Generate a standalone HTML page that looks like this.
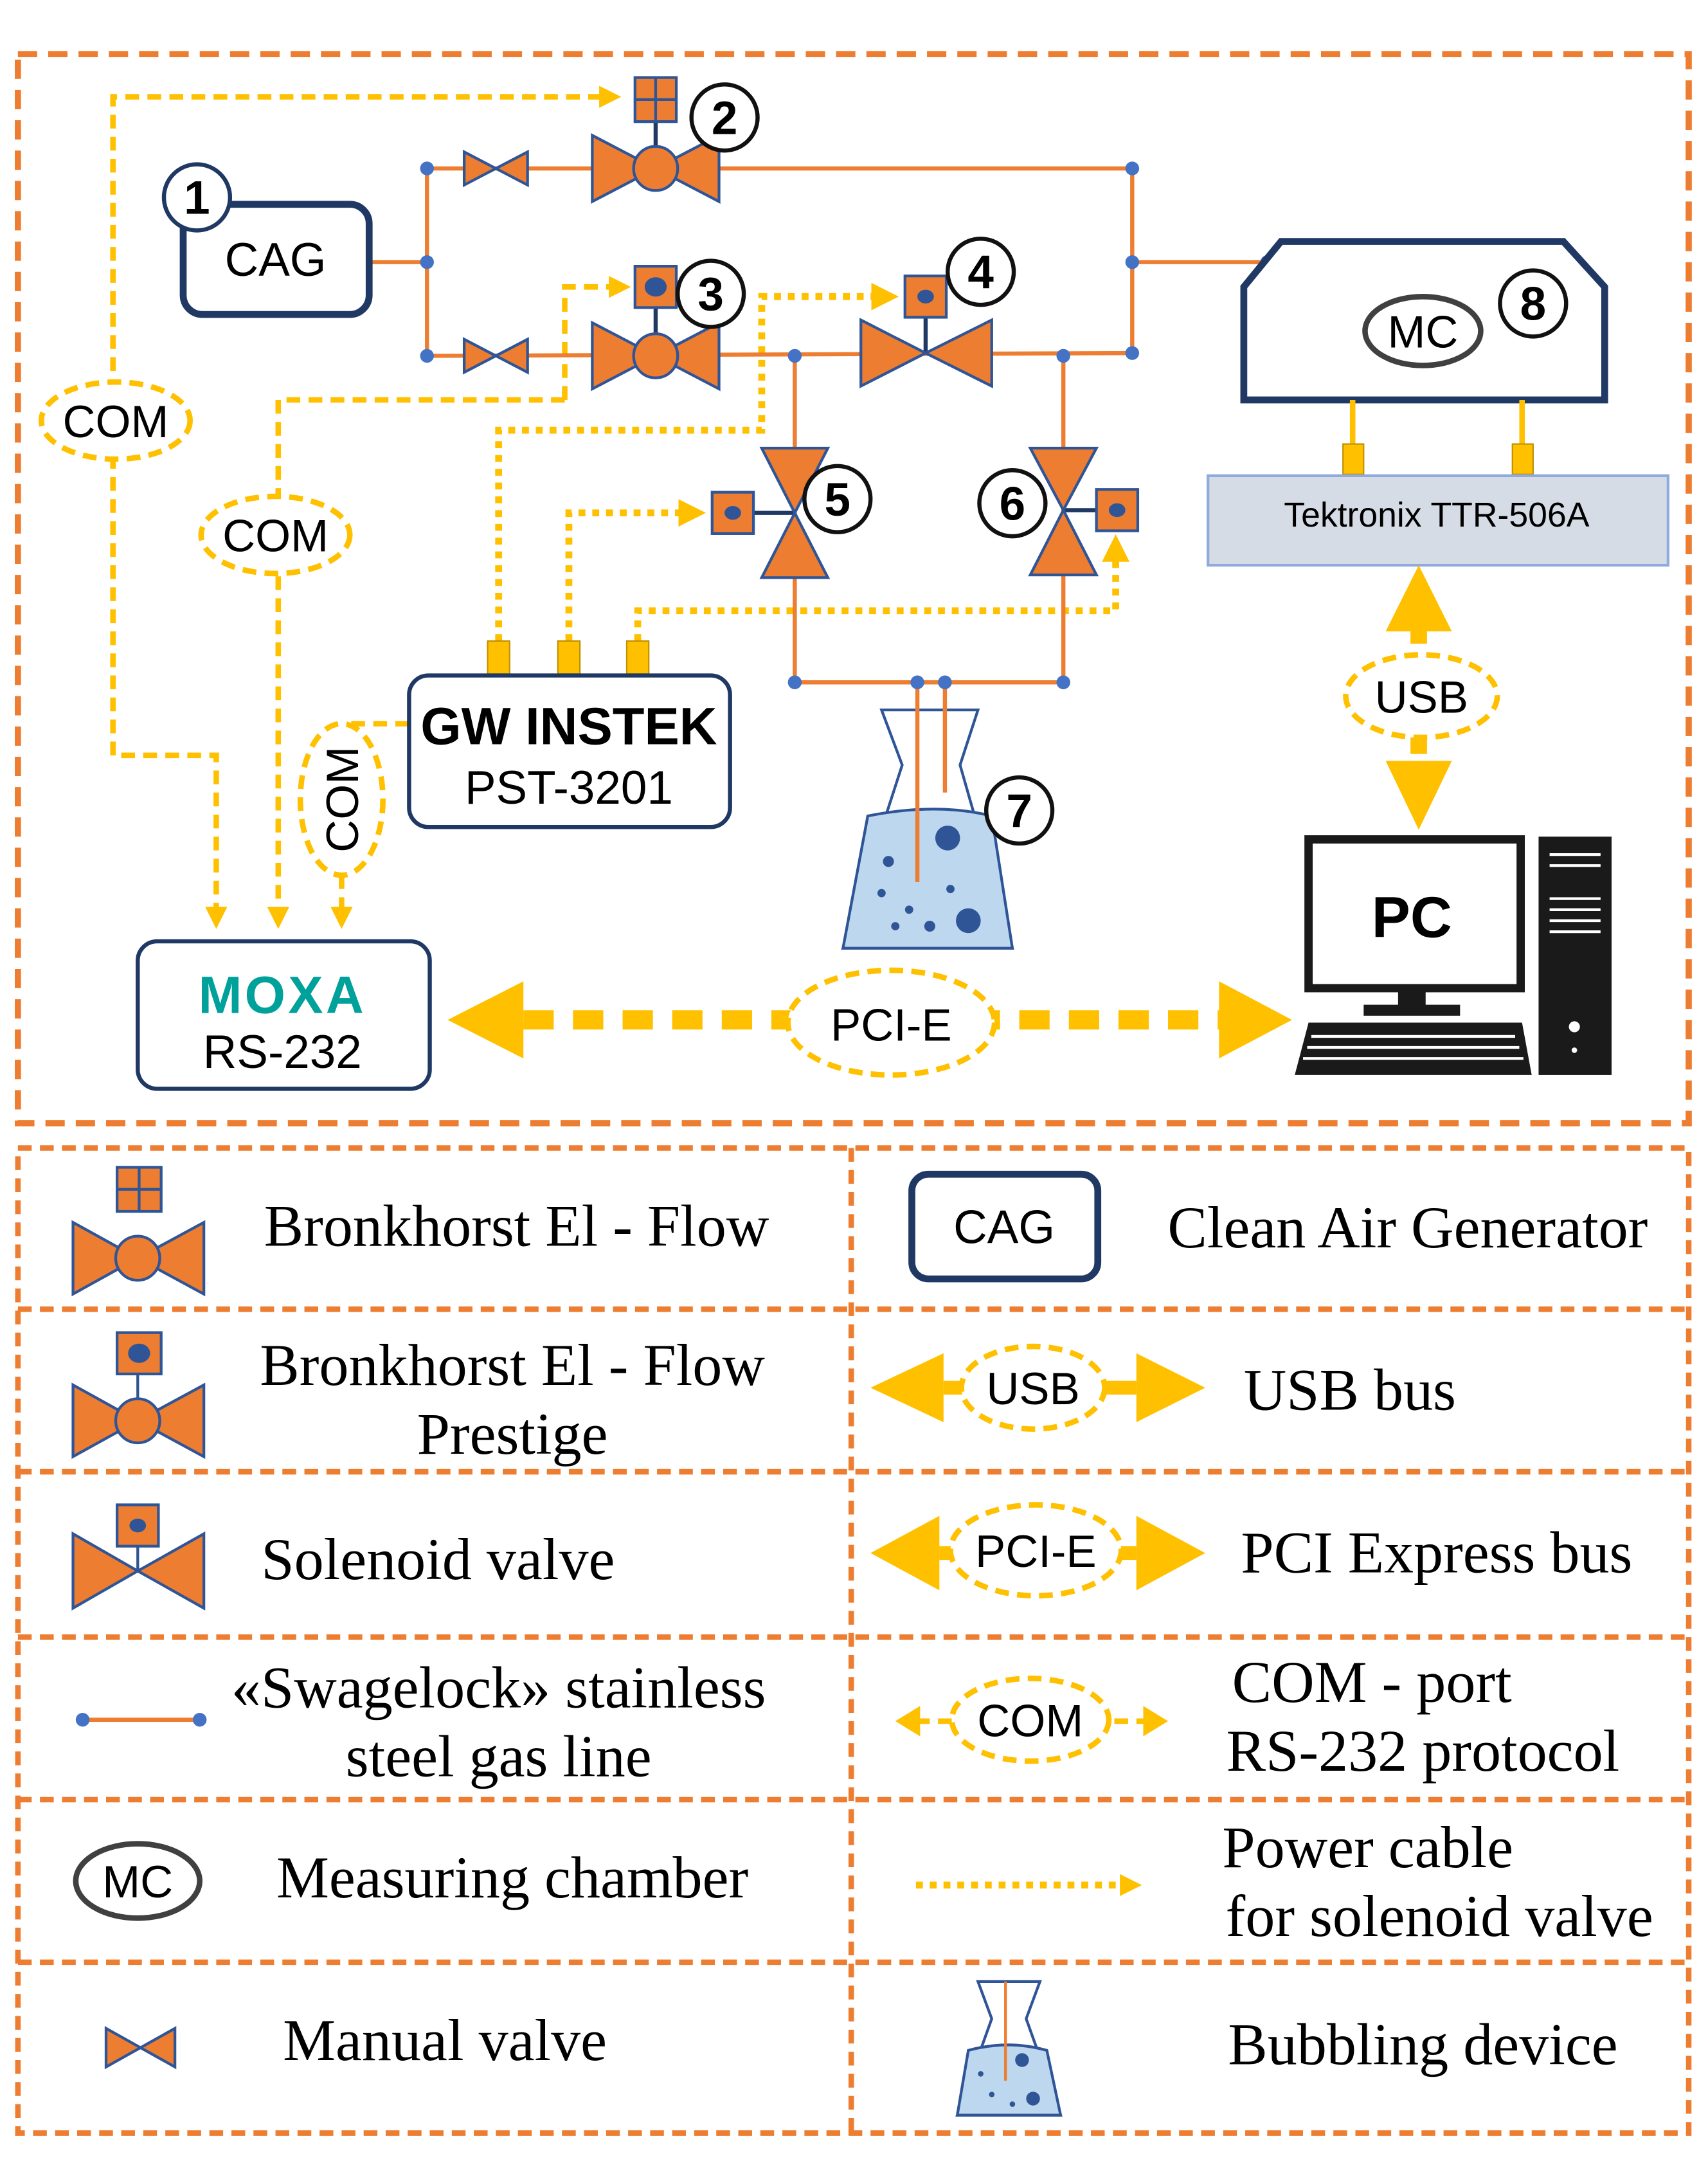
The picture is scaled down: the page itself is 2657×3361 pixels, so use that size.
<!DOCTYPE html>
<html><head><meta charset="utf-8"><style>
html,body{margin:0;padding:0;background:#fff;}
svg{display:block;}
</style></head><body>
<svg width="2657" height="3361" viewBox="0 0 1240 1568" xmlns="http://www.w3.org/2000/svg" font-family="Liberation Sans, sans-serif">
<defs>
<marker id="ay" markerWidth="4" markerHeight="4" refX="2.5" refY="2" orient="auto" markerUnits="strokeWidth"><path d="M0,0 L4,2 L0,4 z" fill="#ffc000"/></marker>
</defs>
<rect width="1240" height="1568" fill="#fff"/>
<rect x="13" y="39" width="1213" height="776" fill="none" stroke="#ed7d31" stroke-width="4.5" stroke-dasharray="14 8"/>
<g fill="none" stroke="#ed7d31" stroke-width="4" stroke-dasharray="10 6">
<rect x="13" y="833" width="1213" height="715"/>
<line x1="618" y1="833" x2="618" y2="1548"/>
<line x1="13" y1="950" x2="1226" y2="950"/>
<line x1="13" y1="1068" x2="1226" y2="1068"/>
<line x1="13" y1="1188" x2="1226" y2="1188"/>
<line x1="13" y1="1306" x2="1226" y2="1306"/>
<line x1="13" y1="1424" x2="1226" y2="1424"/>
</g>

<g fill="none" stroke="#ffc000" stroke-width="4" stroke-dasharray="10 6">
<polyline points="82,285 82,70 445,70" marker-end="url(#ay)"/>
<polyline points="82,330 82,548 157,548 157,668" marker-end="url(#ay)"/>
<polyline points="410,290 410,208 452,208" marker-end="url(#ay)"/>
<polyline points="410,290 202,290 202,360"/>
<polyline points="202,418 202,668" marker-end="url(#ay)"/>
<polyline points="297,525 250,525 250,540"/>
<polyline points="248,635 248,668" marker-end="url(#ay)"/>
</g>
<g fill="#fff" stroke="#ffc000" stroke-width="4" stroke-dasharray="10 6">
<ellipse cx="84" cy="305" rx="54" ry="28"/>
<ellipse cx="200" cy="388" rx="54" ry="28"/>
<ellipse cx="248" cy="580" rx="30" ry="55"/>
</g>
<g font-size="33" fill="#000" text-anchor="middle">
<text x="84" y="317">COM</text>
<text x="200" y="400">COM</text>
<text x="248" y="592" transform="rotate(-90 248 580)">COM</text>
</g>

<g fill="none" stroke="#ffc000" stroke-width="5" stroke-dasharray="5 5">
<polyline points="362,465 362,312 553,312 553,215 645,215" marker-end="url(#ay)"/>
<polyline points="413,465 413,372 505,372" marker-end="url(#ay)"/>
<polyline points="463,465 463,443 810,443 810,395" marker-end="url(#ay)"/>
</g>

<g fill="none" stroke="#ed7d31" stroke-width="3">
<polyline points="268,190 310,190"/>
<polyline points="310,122 310,258"/>
<polyline points="310,122 822,122 822,256 310,258"/>
<polyline points="822,190 920,190"/>
<polyline points="577,258 577,495 772,495 772,258"/>
</g>
<g stroke="#1f3864" stroke-width="3">
<line x1="476" y1="88" x2="476" y2="122"/>
<line x1="476" y1="222" x2="476" y2="258"/>
<line x1="672" y1="228" x2="672" y2="256"/>
<line x1="545" y1="372" x2="577" y2="372"/>
<line x1="772" y1="370" x2="800" y2="370"/>
</g>
<g fill="#ed7d31" stroke="#2f5597" stroke-width="2">
<polygon points="337,110 360,122 337,134"/><polygon points="383,110 360,122 383,134"/>
<polygon points="337,246 360,258 337,270"/><polygon points="383,246 360,258 383,270"/>
<polygon points="430,98 476,122 430,146"/><polygon points="522,98 476,122 522,146"/>
<circle cx="476" cy="122" r="16"/>
<rect x="461" y="56" width="30" height="32"/>
<polygon points="430,234 476,258 430,282"/><polygon points="522,234 476,258 522,282"/>
<circle cx="476" cy="258" r="16"/>
<rect x="461" y="193" width="30" height="30"/>
<polygon points="625,232 672,256 625,280"/><polygon points="720,232 672,256 720,280"/>
<rect x="657" y="200" width="30" height="30"/>
<polygon points="553,325 577,372 601,325"/><polygon points="553,419 577,372 601,419"/>
<rect x="517" y="357" width="30" height="30"/>
<polygon points="748,325 772,370 796,325"/><polygon points="748,417 772,370 796,417"/>
<rect x="796" y="355" width="30" height="30"/>
</g>
<g stroke="#2f5597" stroke-width="2">
<line x1="476" y1="56" x2="476" y2="88"/><line x1="461" y1="72" x2="491" y2="72"/>
</g>
<g fill="#2f5597">
<ellipse cx="476" cy="208" rx="8" ry="7"/>
<ellipse cx="672" cy="215" rx="6" ry="5"/>
<ellipse cx="532" cy="372" rx="6" ry="5"/>
<ellipse cx="811" cy="370" rx="6" ry="5"/>
</g>

<rect x="133" y="148" width="135" height="80" rx="14" fill="#fff" stroke="#1f3864" stroke-width="5"/>
<text x="200" y="200" font-size="34" text-anchor="middle">CAG</text>

<path d="M640,515 L710,515 L697,555 L735,688 L612,688 L655,555 Z" fill="#fff" stroke="#2f5597" stroke-width="2"/>
<path d="M630,592 Q680,582 720,592 L735,688 L612,688 Z" fill="#bdd7ee" stroke="#2f5597" stroke-width="2"/>
<line x1="666" y1="495" x2="666" y2="640" stroke="#ed7d31" stroke-width="3"/>
<line x1="686" y1="495" x2="686" y2="575" stroke="#ed7d31" stroke-width="3"/>
<g fill="#2f5597"><circle cx="688" cy="608" r="9"/><circle cx="703" cy="668" r="9"/><circle cx="645" cy="625" r="4"/><circle cx="640" cy="648" r="3"/><circle cx="660" cy="660" r="3"/><circle cx="675" cy="672" r="4"/><circle cx="650" cy="672" r="3"/><circle cx="690" cy="645" r="3"/></g>

<g fill="#4472c4">
<circle cx="310" cy="122" r="5"/><circle cx="310" cy="190" r="5"/><circle cx="310" cy="258" r="5"/>
<circle cx="822" cy="122" r="5"/><circle cx="822" cy="190" r="5"/><circle cx="822" cy="256" r="5"/>
<circle cx="577" cy="258" r="5"/><circle cx="772" cy="258" r="5"/>
<circle cx="577" cy="495" r="5"/><circle cx="772" cy="495" r="5"/>
<circle cx="666" cy="495" r="5"/><circle cx="686" cy="495" r="5"/>
<circle cx="920" cy="190" r="5"/>
</g>

<polygon points="903,290 903,208 930,175 1135,175 1165,208 1165,290" fill="#fff" stroke="#1f3864" stroke-width="5"/>
<ellipse cx="1033" cy="240" rx="42" ry="25" fill="#fff" stroke="#404040" stroke-width="4"/>
<text x="1033" y="252" font-size="33" text-anchor="middle">MC</text>
<g stroke="#ffc000" stroke-width="4"><line x1="982" y1="290" x2="982" y2="325"/><line x1="1105" y1="290" x2="1105" y2="325"/></g>
<g fill="#ffc000" stroke="#bf9000" stroke-width="1"><rect x="975" y="322" width="15" height="22"/><rect x="1098" y="322" width="15" height="22"/>
<rect x="354" y="465" width="16" height="24"/><rect x="405" y="465" width="16" height="24"/><rect x="455" y="465" width="16" height="24"/></g>
<rect x="877" y="345" width="334" height="65" fill="#d6dce5" stroke="#8faadc" stroke-width="2"/>
<text x="1043" y="382" font-size="25" text-anchor="middle">Tektronix TTR-506A</text>

<line x1="1030" y1="455" x2="1030" y2="555" stroke="#ffc000" stroke-width="12" stroke-dasharray="12 8"/>
<polygon points="1006,458 1030,410 1054,458" fill="#ffc000"/>
<polygon points="1006,552 1030,602 1054,552" fill="#ffc000"/>
<ellipse cx="1032" cy="505" rx="55" ry="30" fill="#fff" stroke="#ffc000" stroke-width="4" stroke-dasharray="10 6"/>
<text x="1032" y="517" font-size="33" text-anchor="middle">USB</text>

<rect x="950" y="609" width="154" height="108" fill="#fff" stroke="#1a1a1a" stroke-width="6"/>
<text x="1025" y="680" font-size="42" font-weight="bold" text-anchor="middle">PC</text>
<rect x="1015" y="717" width="20" height="14" fill="#1a1a1a"/>
<rect x="990" y="729" width="70" height="8" fill="#1a1a1a"/>
<polygon points="950,742 1105,742 1112,780 940,780" fill="#1a1a1a"/>
<g stroke="#fff" stroke-width="2"><line x1="952" y1="752" x2="1100" y2="752"/><line x1="949" y1="760" x2="1103" y2="760"/><line x1="946" y1="768" x2="1106" y2="768"/></g>
<rect x="1117" y="607" width="53" height="173" fill="#1a1a1a"/>
<g stroke="#fff" stroke-width="2"><line x1="1125" y1="620" x2="1162" y2="620"/><line x1="1125" y1="628" x2="1162" y2="628"/><line x1="1125" y1="652" x2="1162" y2="652"/><line x1="1125" y1="660" x2="1162" y2="660"/><line x1="1125" y1="668" x2="1162" y2="668"/><line x1="1125" y1="676" x2="1162" y2="676"/></g>
<circle cx="1143" cy="745" r="4" fill="#fff"/><circle cx="1143" cy="762" r="2" fill="#fff"/>

<line x1="380" y1="740" x2="885" y2="740" stroke="#ffc000" stroke-width="14" stroke-dasharray="22 14"/>
<polygon points="380,712 325,740 380,768" fill="#ffc000"/>
<polygon points="885,712 938,740 885,768" fill="#ffc000"/>
<ellipse cx="647" cy="742" rx="75" ry="38" fill="#fff" stroke="#ffc000" stroke-width="4" stroke-dasharray="10 6"/>
<text x="647" y="755" font-size="33" text-anchor="middle">PCI-E</text>

<rect x="100" y="683" width="212" height="107" rx="14" fill="#fff" stroke="#1f3864" stroke-width="3"/>
<text x="205" y="735" font-size="38" font-weight="bold" fill="#00a19a" text-anchor="middle" letter-spacing="2">MOXA</text>
<text x="205" y="775" font-size="34" text-anchor="middle">RS-232</text>

<rect x="297" y="490" width="233" height="110" rx="14" fill="#fff" stroke="#1f3864" stroke-width="3"/>
<text x="413" y="540" font-size="38" font-weight="bold" text-anchor="middle">GW INSTEK</text>
<text x="413" y="583" font-size="34" text-anchor="middle">PST-3201</text>

<g fill="#fff" stroke="#111" stroke-width="3">
<circle cx="143" cy="143" r="24" stroke="#1f3864"/>
<circle cx="526" cy="85" r="24"/>
<circle cx="516" cy="213" r="24"/>
<circle cx="712" cy="197" r="24"/>
<circle cx="608" cy="362" r="24"/>
<circle cx="735" cy="365" r="24"/>
<circle cx="740" cy="588" r="24"/>
<circle cx="1113" cy="220" r="24"/>
</g>
<g font-size="34" font-weight="bold" text-anchor="middle">
<text x="143" y="155">1</text><text x="526" y="97">2</text><text x="516" y="225">3</text><text x="712" y="209">4</text>
<text x="608" y="374">5</text><text x="735" y="377">6</text><text x="740" y="600">7</text><text x="1113" y="232">8</text>
</g>

<g font-family="Liberation Serif, serif" font-size="43" text-anchor="middle" fill="#000">
<text x="375" y="904">Bronkhorst El - Flow</text>
<text x="372" y="1005">Bronkhorst El - Flow</text>
<text x="372" y="1055">Prestige</text>
<text x="318" y="1146">Solenoid valve</text>
<text x="362" y="1239">«Swagelock» stainless</text>
<text x="362" y="1289">steel gas line</text>
<text x="372" y="1377">Measuring chamber</text>
<text x="323" y="1495">Manual valve</text>
<text x="1022" y="905">Clean Air Generator</text>
<text x="980" y="1023">USB bus</text>
<text x="1043" y="1141">PCI Express bus</text>
<text x="996" y="1235">COM - port</text>
<text x="1033" y="1285">RS-232 protocol</text>
<text x="993" y="1355">Power cable</text>
<text x="1045" y="1405">for solenoid valve</text>
<text x="1033" y="1498">Bubbling device</text>
</g>
<g fill="#ed7d31" stroke="#2f5597" stroke-width="2">
<polygon points="53,887 100,913 53,939"/><polygon points="148,887 100,913 148,939"/><circle cx="100" cy="913" r="16"/>
<rect x="85" y="847" width="32" height="32"/>
<polygon points="53,1005 100,1031 53,1057"/><polygon points="148,1005 100,1031 148,1057"/><circle cx="100" cy="1031" r="16"/>
<rect x="85" y="967" width="32" height="30"/>
<polygon points="53,1113 100,1140 53,1167"/><polygon points="148,1113 100,1140 148,1167"/>
<rect x="85" y="1092" width="30" height="30"/>
<polygon points="77,1472 102,1486 77,1500"/><polygon points="127,1472 102,1486 127,1500"/>
</g>
<g stroke="#2f5597" stroke-width="2"><line x1="101" y1="847" x2="101" y2="879"/><line x1="85" y1="863" x2="117" y2="863"/><line x1="100" y1="997" x2="100" y2="1015"/><line x1="100" y1="1122" x2="100" y2="1140"/></g>
<ellipse cx="101" cy="982" rx="8" ry="7" fill="#2f5597"/><ellipse cx="100" cy="1107" rx="6" ry="5" fill="#2f5597"/>
<line x1="60" y1="1248" x2="145" y2="1248" stroke="#ed7d31" stroke-width="3"/>
<circle cx="60" cy="1248" r="5" fill="#4472c4"/><circle cx="145" cy="1248" r="5" fill="#4472c4"/>
<ellipse cx="100" cy="1365" rx="45" ry="27" fill="#fff" stroke="#404040" stroke-width="4"/>
<text x="100" y="1377" font-size="33" text-anchor="middle">MC</text>
<rect x="662" y="852" width="135" height="76" rx="12" fill="#fff" stroke="#1f3864" stroke-width="5"/>
<text x="729" y="902" font-size="34" text-anchor="middle">CAG</text>
<polygon points="685,982 632,1007 685,1032" fill="#ffc000"/><polygon points="825,982 875,1007 825,1032" fill="#ffc000"/>
<line x1="685" y1="1007" x2="825" y2="1007" stroke="#ffc000" stroke-width="10"/>
<ellipse cx="750" cy="1007" rx="52" ry="30" fill="#fff" stroke="#ffc000" stroke-width="4" stroke-dasharray="10 6"/>
<text x="750" y="1019" font-size="33" text-anchor="middle">USB</text>
<polygon points="682,1100 632,1127 682,1154" fill="#ffc000"/><polygon points="825,1100 875,1127 825,1154" fill="#ffc000"/>
<line x1="682" y1="1127" x2="825" y2="1127" stroke="#ffc000" stroke-width="10"/>
<ellipse cx="752" cy="1125" rx="62" ry="33" fill="#fff" stroke="#ffc000" stroke-width="4" stroke-dasharray="10 6"/>
<text x="752" y="1137" font-size="33" text-anchor="middle">PCI-E</text>
<polygon points="668,1238 650,1249 668,1260" fill="#ffc000"/><polygon points="830,1238 848,1249 830,1260" fill="#ffc000"/>
<line x1="665" y1="1249" x2="833" y2="1249" stroke="#ffc000" stroke-width="4" stroke-dasharray="10 6"/>
<ellipse cx="748" cy="1248" rx="57" ry="30" fill="#fff" stroke="#ffc000" stroke-width="4" stroke-dasharray="10 6"/>
<text x="748" y="1260" font-size="33" text-anchor="middle">COM</text>
<line x1="665" y1="1368" x2="815" y2="1368" stroke="#ffc000" stroke-width="5" stroke-dasharray="5 5"/>
<polygon points="813,1360 829,1368 813,1376" fill="#ffc000"/>
<path d="M710,1438 L755,1438 L745,1465 L770,1535 L695,1535 L720,1465 Z" fill="#fff" stroke="#2f5597" stroke-width="2"/>
<path d="M703,1488 Q732,1480 760,1488 L770,1535 L695,1535 Z" fill="#bdd7ee" stroke="#2f5597" stroke-width="2"/>
<line x1="730" y1="1438" x2="730" y2="1510" stroke="#ed7d31" stroke-width="2"/>
<g fill="#2f5597"><circle cx="742" cy="1495" r="5"/><circle cx="750" cy="1523" r="5"/><circle cx="712" cy="1505" r="2"/><circle cx="720" cy="1520" r="2"/><circle cx="735" cy="1527" r="2"/></g>
</svg>
</body></html>
